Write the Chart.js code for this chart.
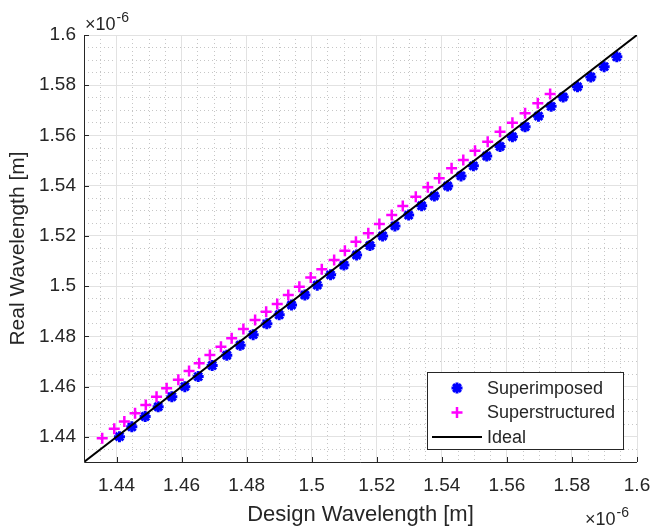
<!DOCTYPE html>
<html>
<head>
<meta charset="utf-8">
<title>Real vs Design Wavelength</title>
<script src="https://cdn.jsdelivr.net/npm/chart.js@4.4.0/dist/chart.umd.min.js"></script>
<style>
  html, body { margin: 0; padding: 0; background: #fff; }
  #wrap { width: 652px; height: 528px; }
</style>
</head>
<body>
<div id="wrap"><canvas id="wavelengthChart" width="652" height="528"></canvas></div>
<script>
// All wavelengths are in units of 1e-6 m (the axes carry the x10^-6 multiplier)
const superimposedDesign = [
  1.4409, 1.4447, 1.4488, 1.4528, 1.4570, 1.4610, 1.4651, 1.4694, 1.4739, 1.4780,
  1.4820, 1.4862, 1.4900, 1.4938, 1.4979, 1.5017, 1.5058, 1.5099, 1.5138, 1.5179,
  1.5218, 1.5256, 1.5298, 1.5338, 1.5377, 1.5418, 1.5459, 1.5497, 1.5538, 1.5579,
  1.5617, 1.5656, 1.5697, 1.5736, 1.5773, 1.5817, 1.5858, 1.5899, 1.5938
];
const superimposedReal = [
  1.4401, 1.4440, 1.4481, 1.4520, 1.4560, 1.4600, 1.4640, 1.4684, 1.4725, 1.4765,
  1.4807, 1.4850, 1.4886, 1.4925, 1.4965, 1.5004, 1.5045, 1.5084, 1.5124, 1.5162,
  1.5200, 1.5240, 1.5283, 1.5320, 1.5359, 1.5399, 1.5439, 1.5479, 1.5518, 1.5556,
  1.5595, 1.5635, 1.5677, 1.5716, 1.5753, 1.5794, 1.5833, 1.5874, 1.5913
];
const superstructuredDesign = [
  1.4356, 1.4393, 1.4424, 1.4457, 1.4490, 1.4523, 1.4554, 1.4590, 1.4623, 1.4654,
  1.4687, 1.4721, 1.4754, 1.4790, 1.4826, 1.4860, 1.4894, 1.4928, 1.4962, 1.4997,
  1.5031, 1.5069, 1.5102, 1.5136, 1.5174, 1.5208, 1.5246, 1.5280, 1.5320, 1.5357,
  1.5392, 1.5430, 1.5466, 1.5502, 1.5541, 1.5579, 1.5617, 1.5656, 1.5695, 1.5733
];
const superstructuredReal = [
  1.4395, 1.4432, 1.4461, 1.4494, 1.4527, 1.4560, 1.4594, 1.4627, 1.4662, 1.4693,
  1.4726, 1.4759, 1.4793, 1.4830, 1.4865, 1.4898, 1.4929, 1.4965, 1.4998, 1.5035,
  1.5067, 1.5104, 1.5141, 1.5177, 1.5211, 1.5248, 1.5283, 1.5319, 1.5356, 1.5394,
  1.5430, 1.5469, 1.5502, 1.5539, 1.5575, 1.5615, 1.5651, 1.5688, 1.5728, 1.5765
];
const idealDesign = [1.43, 1.6];
const idealReal = [1.43, 1.6];

const axisMin = 1.43;
const axisMax = 1.6;
const tickValues = [1.44, 1.46, 1.48, 1.5, 1.52, 1.54, 1.56, 1.58, 1.6];
const tickLabels = ['1.44', '1.46', '1.48', '1.5', '1.52', '1.54', '1.56', '1.58', '1.6'];
const minorStep = 0.005;

const FONT = "'Liberation Sans', Arial, Helvetica, sans-serif";
const INK = '#262626';

// dotted minor grid sits between the major ticks
const minorValues = [];
for (let v = axisMin + minorStep; v < axisMax - 1e-9; v += minorStep) {
  const r = Math.round(v * 1000) / 1000;
  if (!tickValues.some(t => Math.abs(t - r) < 1e-6)) minorValues.push(r);
}

function toPoints(xs, ys) {
  return xs.map((x, i) => ({ x: x, y: ys[i] }));
}

// keep the plot box fixed: tick labels may hang past its edges
function fixBox(size) {
  return s => {
    if (s.isHorizontal()) s.height = size; else s.width = size;
    s.paddingLeft = 0;
    s.paddingRight = 0;
    s.paddingTop = 0;
    s.paddingBottom = 0;
  };
}

Chart.defaults.font.family = FONT;
Chart.defaults.color = INK;

// left/bottom axis lines with inward tick marks, drawn over the data
const axesFrame = {
  id: 'axesFrame',
  afterDatasetsDraw(chart) {
    const { ctx, chartArea: a, scales } = chart;
    ctx.save();
    ctx.strokeStyle = INK;
    ctx.lineWidth = 1;
    ctx.beginPath();
    ctx.moveTo(Math.round(a.left) + 0.5, a.top);
    ctx.lineTo(Math.round(a.left) + 0.5, Math.round(a.bottom) + 0.5);
    ctx.lineTo(a.right, Math.round(a.bottom) + 0.5);
    tickValues.forEach(v => {
      const px = Math.round(scales.x.getPixelForValue(v)) + 0.5;
      ctx.moveTo(px, a.bottom);
      ctx.lineTo(px, a.bottom - 5);
      const py = Math.round(scales.y.getPixelForValue(v)) + 0.5;
      ctx.moveTo(a.left, py);
      ctx.lineTo(a.left + 5, py);
    });
    ctx.stroke();

    // x10^-6 multipliers
    ctx.fillStyle = INK;
    ctx.textBaseline = 'alphabetic';
    ctx.textAlign = 'left';
    const drawExp = (x, y) => {
      ctx.font = '18px ' + FONT;
      ctx.fillText('\u00d710', x, y);
      const w = ctx.measureText('\u00d710').width;
      ctx.font = '14px ' + FONT;
      ctx.fillText('-6', x + w + 1, y - 8);
    };
    drawExp(a.left + 1, a.top - 5);
    drawExp(a.right - 52, 525);
    ctx.restore();
  }
};

// boxed legend in the lower right corner of the plot
const boxLegend = {
  id: 'boxLegend',
  afterDraw(chart) {
    const { ctx, chartArea: a } = chart;
    const ds = chart.data.datasets;
    const w = 196, h = 77;
    const x0 = a.right - 14 - w, y0 = a.bottom - 13 - h;
    ctx.save();
    ctx.fillStyle = '#ffffff';
    ctx.fillRect(x0, y0, w, h);
    ctx.strokeStyle = INK;
    ctx.lineWidth = 1;
    ctx.strokeRect(Math.round(x0) + 0.5, Math.round(y0) + 0.5, w, h);
    ctx.font = '18px ' + FONT;
    ctx.textBaseline = 'middle';
    ctx.textAlign = 'left';
    ds.forEach((d, i) => {
      const cy = y0 + 16 + i * 24.5;
      const mx = x0 + 30;
      if (d.showLine) {
        ctx.strokeStyle = d.borderColor;
        ctx.lineWidth = d.borderWidth;
        ctx.beginPath();
        ctx.moveTo(x0 + 5, cy);
        ctx.lineTo(x0 + 55, cy);
        ctx.stroke();
      } else {
        ctx.strokeStyle = d.borderColor;
        ctx.fillStyle = d.backgroundColor;
        ctx.lineWidth = d.borderWidth;
        Chart.helpers.drawPoint(ctx, {
          pointStyle: d.pointStyle, radius: d.pointRadius, rotation: 0, borderWidth: d.borderWidth
        }, mx, cy);
      }
      ctx.fillStyle = INK;
      ctx.fillText(d.label, x0 + 60, cy + 1);
    });
    ctx.restore();
  }
};

const majorGrid = '#e2e2e2';
const minorGrid = '#c6c6c6';

new Chart(document.getElementById('wavelengthChart').getContext('2d'), {
  type: 'scatter',
  data: {
    datasets: [
      {
        label: 'Superimposed',
        data: toPoints(superimposedDesign, superimposedReal),
        pointStyle: 'star',
        pointRadius: 5.5,
        borderWidth: 3,
        borderColor: '#0000ff',
        backgroundColor: '#0000ff',
        order: 2
      },
      {
        label: 'Superstructured',
        data: toPoints(superstructuredDesign, superstructuredReal),
        pointStyle: 'cross',
        pointRadius: 5.5,
        borderWidth: 2.5,
        borderColor: '#ff00ff',
        backgroundColor: '#ff00ff',
        order: 1
      },
      {
        label: 'Ideal',
        data: toPoints(idealDesign, idealReal),
        showLine: true,
        pointRadius: 0,
        borderWidth: 2,
        borderColor: '#000000',
        backgroundColor: '#000000',
        order: 0
      }
    ]
  },
  options: {
    responsive: false,
    animation: false,
    devicePixelRatio: 1,
    layout: { padding: { left: 0, right: 15, top: 35, bottom: 0 } },
    plugins: {
      legend: { display: false },
      tooltip: { enabled: false }
    },
    scales: {
      xMinor: {
        type: 'linear',
        position: 'bottom',
        min: axisMin,
        max: axisMax,
        afterBuildTicks: s => { s.ticks = minorValues.map(v => ({ value: v })); },
        afterFit: fixBox(0),
        ticks: { display: false },
        grid: { color: minorGrid, lineWidth: 1, drawTicks: false, borderDash: [1, 3] },
        border: { display: false, dash: [1, 3] }
      },
      yMinor: {
        type: 'linear',
        position: 'left',
        min: axisMin,
        max: axisMax,
        afterBuildTicks: s => { s.ticks = minorValues.map(v => ({ value: v })); },
        afterFit: fixBox(0),
        ticks: { display: false },
        grid: { color: minorGrid, lineWidth: 1, drawTicks: false, borderDash: [1, 3] },
        border: { display: false, dash: [1, 3] }
      },
      x: {
        type: 'linear',
        position: 'bottom',
        min: axisMin,
        max: axisMax,
        afterBuildTicks: s => { s.ticks = tickValues.map(v => ({ value: v })); },
        afterFit: fixBox(66),
        ticks: {
          callback: (v, i) => tickLabels[i],
          autoSkip: false,
          maxRotation: 0,
          padding: 12,
          color: INK,
          font: { size: 19 }
        },
        grid: { color: majorGrid, lineWidth: 1, drawTicks: false },
        border: { display: false },
        title: {
          display: true,
          text: 'Design Wavelength [m]',
          color: INK,
          font: { size: 22 },
          padding: { top: 0, bottom: 0 }
        }
      },
      y: {
        type: 'linear',
        position: 'left',
        min: axisMin,
        max: axisMax,
        afterBuildTicks: s => { s.ticks = tickValues.map(v => ({ value: v })); },
        afterFit: fixBox(84),
        ticks: {
          callback: (v, i) => tickLabels[i],
          autoSkip: false,
          padding: 8,
          color: INK,
          font: { size: 19 }
        },
        grid: { color: majorGrid, lineWidth: 1, drawTicks: false },
        border: { display: false },
        title: {
          display: true,
          text: 'Real Wavelength [m]',
          color: INK,
          font: { size: 21 },
          padding: { top: 6, bottom: 0 }
        }
      }
    }
  },
  plugins: [axesFrame, boxLegend]
});
</script>
</body>
</html>
